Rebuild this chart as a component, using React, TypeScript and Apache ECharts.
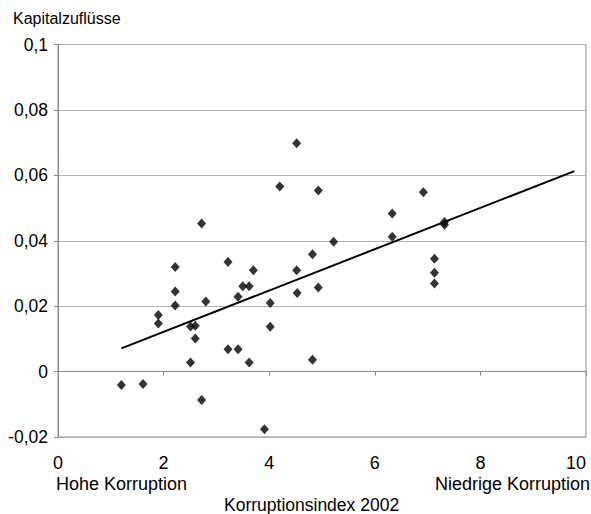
import React, { useEffect, useRef } from "react";
import * as echarts from "echarts";

const corruptionIndex = [
  1.2, 1.61, 1.9, 1.9, 2.22, 2.22, 2.22, 2.51, 2.6, 2.6, 2.51, 2.72, 2.8, 2.72,
  3.22, 3.22, 3.41, 3.41, 3.5, 3.62, 3.7, 3.62, 3.91, 4.02, 4.02, 4.2, 4.52,
  4.52, 4.53, 4.82, 4.82, 4.93, 4.93, 5.22, 6.33, 6.33, 6.92, 7.13, 7.13, 7.13,
  7.32, 7.32,
];
const capitalInflows = [
  -0.0041, -0.0038, 0.0173, 0.0147, 0.032, 0.0245, 0.0202, 0.0138, 0.014,
  0.0101, 0.0028, 0.0453, 0.0214, -0.0087, 0.0335, 0.0068, 0.0229, 0.0068,
  0.0261, 0.0261, 0.031, 0.0028, -0.0176, 0.021, 0.0137, 0.0566, 0.0698,
  0.031, 0.024, 0.0359, 0.0036, 0.0554, 0.0257, 0.0397, 0.0483, 0.0412,
  0.0548, 0.0345, 0.0302, 0.0269, 0.0457, 0.0449,
];
const trendX = [1.2, 9.78];
const trendY = [0.0071, 0.0613];

const yTitle = "Kapitalzuflüsse";
const xTitle = "Korruptionsindex 2002";
const leftNote = "Hohe Korruption";
const rightNote = "Niedrige Korruption";

const FONT = "Liberation Sans, Arial, sans-serif";

export default function App() {
  const ref = useRef<HTMLDivElement>(null);
  useEffect(() => {
    if (!ref.current) return;
    const chart = echarts.init(ref.current, null, { renderer: "svg" });
    chart.setOption({
      animation: false,
      backgroundColor: "#ffffff",
      textStyle: { fontFamily: FONT },
      grid: {
        left: 58,
        right: 5,
        top: 44.5,
        bottom: 77,
        show: true,
        borderColor: "#8a8a8a",
        borderWidth: 1,
        containLabel: false,
        outerBoundsMode: "none",
      },
      xAxis: {
        type: "value",
        min: 0,
        max: 10,
        interval: 2,
        axisLine: { show: true, lineStyle: { color: "#8a8a8a" } },
        axisTick: { show: true, length: 4, lineStyle: { color: "#8a8a8a" } },
        axisLabel: {
          color: "#000",
          fontSize: 18,
          margin: 17,
          fontFamily: FONT,
          alignMaxLabel: "right",
        },
        splitLine: { show: false },
      },
      yAxis: {
        type: "value",
        min: -0.02,
        max: 0.1,
        interval: 0.02,
        axisLine: { show: true, lineStyle: { color: "#8a8a8a" } },
        axisTick: { show: true, length: 4, lineStyle: { color: "#8a8a8a" } },
        axisLabel: {
          color: "#000",
          fontSize: 17.5,
          margin: 10,
          fontFamily: FONT,
          formatter: (v: number) =>
            Math.abs(v) < 1e-9 ? "0" : String(+v.toFixed(2)).replace(".", ","),
        },
        splitLine: { show: true, lineStyle: { color: "#b0b0b0", width: 1 } },
      },
      graphic: [
        {
          type: "text",
          left: 13,
          top: 10,
          style: { text: yTitle, fill: "#000", font: `16px ${FONT}` },
        },
        {
          type: "text",
          left: 56,
          top: 475,
          style: { text: leftNote, fill: "#000", font: `18px ${FONT}` },
        },
        {
          type: "text",
          right: 1,
          top: 475,
          style: { text: rightNote, fill: "#000", font: `18px ${FONT}` },
        },
        {
          type: "text",
          left: 224,
          top: 496,
          style: { text: xTitle, fill: "#000", font: `17.5px ${FONT}` },
        },
      ],
      series: [
        {
          type: "scatter",
          symbol: "diamond",
          symbolSize: [9, 10],
          itemStyle: { color: "#000" },
          data: corruptionIndex.map((x, i) => [x, capitalInflows[i]]),
          z: 3,
        },
        {
          type: "line",
          symbol: "none",
          lineStyle: { color: "#000", width: 2 },
          data: trendX.map((x, i) => [x, trendY[i]]),
          z: 4,
        },
      ],
    });
    return () => chart.dispose();
  }, []);
  return (
    <div
      ref={ref}
      style={{ position: "fixed", left: 0, top: 0, width: 591, height: 514 }}
    />
  );
}
